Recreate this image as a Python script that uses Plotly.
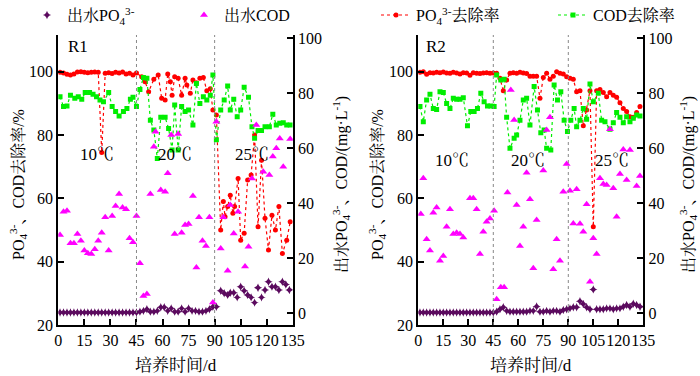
import plotly.graph_objects as go

# ---------------- R1 data ----------------
r1_po4rem_d = [1, 3, 5, 7, 9, 11, 13, 15, 17, 19, 21, 23, 25, 27, 29, 31, 33, 35, 37, 39, 41, 43, 45,
               48, 50, 52, 55, 57.5, 59.5, 61.5, 63, 64.5, 65.5, 67, 69, 71, 73, 74, 76, 77.5, 79.5, 81.5,
               83.5, 85.5, 87.5, 89, 91, 93.5, 95, 96, 97.5, 99, 100.5, 101.5, 103.5, 105, 107, 109,
               111, 113, 115, 117, 119, 121, 123, 125, 127, 129, 131.5, 133.5]
r1_po4rem = [99.8, 99.6, 99.2, 99.0, 99.3, 99.9, 100, 99.8, 99.7, 99.8, 99.9, 99.8, 74.5, 99.5, 99.7,
             99.4, 99.8, 99.6, 99.9, 99.3, 99.5, 99.0, 99.6,
             98.4, 96.8, 93.7, 97.6, 99.0, 91.6, 91.1, 99.3, 96.8, 92.6, 98.4, 97.9, 92.6, 97.9, 95.8,
             93.2, 97.4, 96.5, 97.9, 98.2, 94.0, 94.6, 87.9, 86.3, 50.0, 59.0, 54.2, 57.4, 61.0, 55.3,
             57.4, 66.3, 46.8, 49.0, 65.8, 67.4, 80.0, 51.0, 72.0, 53.7, 43.7, 54.7, 50.0, 57.4, 42.6,
             46.8, 52.6]

r1_codrem_d = [1, 3, 5, 7, 9.5, 11.5, 13.5, 15.5, 18, 20, 22, 24, 26, 29, 31, 33, 35, 37.5, 39.5, 41.5,
               43, 45, 47, 49, 51, 53, 55, 57, 59, 61.5, 63.5, 65.5, 67, 69, 71, 73, 75, 77.5, 79.5,
               81.5, 83.5, 85.5, 87.5, 89, 91, 93.5, 95.5, 97.5, 99, 101, 103, 105, 107, 109.5, 111.5,
               113, 115, 117, 119, 121.5, 123.5, 125.5, 127.5, 129.5, 131.5, 133.5]
r1_codrem = [92.1, 89.0, 89.2, 92.6, 91.6, 92.1, 91.3, 93.4, 93.4, 92.9, 92.1, 91.1, 90.5, 93.4, 89.0,
             87.4, 86.0, 87.4, 88.4, 91.3, 91.9, 89.0, 94.4, 98.2, 97.9, 84.7, 81.6, 72.6, 85.6, 85.6,
             82.1, 75.3, 89.5, 75.3, 89.0, 87.4, 87.9, 83.2, 96.3, 90.0, 92.1, 91.1, 92.6, 99.0, 78.5,
             87.9, 91.1, 95.5, 87.9, 91.3, 85.8, 87.9, 95.1, 91.9, 82.6, 79.0, 81.4, 81.4, 82.6, 82.6,
             86.6, 83.2, 83.7, 83.9, 83.2, 83.2]

r1_codeff_d = [1, 3, 5, 7, 9, 11, 13, 15, 17, 19, 21, 23, 25, 27, 29, 31, 33, 35, 37, 39, 41, 43, 45,
               47, 49, 51, 53, 55, 56, 59, 61.5, 63, 65, 67, 69, 71, 73, 75, 77.5, 79.5, 81, 83, 85, 87,
               89, 91, 93.5, 95, 97.5, 99, 101, 103.5, 107.5, 109.5, 111.5, 114, 118, 121.5, 123.5,
               125.5, 127.5, 129.5, 133.5]
r1_codeff = [28.5, 36.9, 37.3, 25.5, 25.5, 28.8, 26.4, 22.8, 21.8, 21.6, 23.3, 26.4, 29.3, 34.9, 22.8,
             35.4, 39.0, 43.4, 38.5, 37.8, 27.3, 25.8, 35.4, 18.2, 6.3, 7.0, 43.4, 60.6, 66.0, 44.8,
             44.2, 50.9, 64.8, 28.8, 65.2, 29.3, 32.1, 32.5, 42.7, 16.7, 34.9, 26.4, 24.5, 34.9, 3.9,
             69.7, 23.6, 34.9, 15.5, 39.4, 29.0, 36.9, 17.0, 24.2, 49.0, 68.5, 51.5, 50.3, 57.0, 60.0,
             63.6, 53.3, 63.4]

r1_po4eff_d = [1, 3, 5, 7, 9, 11, 13, 15, 17, 19, 21, 23, 25, 27, 29, 31, 33, 35, 37, 39, 41, 43, 45,
               47, 49, 51, 53, 55, 57, 59, 61, 63, 65, 67, 69, 71, 73, 75, 77, 79, 81, 83, 85, 87, 89,
               91, 93.5, 95.5, 97.5, 99, 101, 103, 105, 107, 109, 111, 113, 115, 117, 119, 121, 123,
               125, 127, 129, 131, 133]
r1_po4eff = [0.3] * 23 + [0.6, 0.9, 1.5, 0.6, 0.6, 0.9, 2.2, 2.2, 0.9, 1.8, 0.6, 0.6, 1.8, 0.6, 1.8,
                          0.9, 0.9, 0.6, 0.6, 0.9, 1.5, 2.4, 2.4,
                          8.2, 7.3, 6.7, 7.5, 7.5, 5.8, 9.7, 8.2, 6.7, 5.8, 3.9, 9.3, 5.8, 8.5, 11.5,
                          9.7, 9.7, 8.5, 11.5, 10.5, 8.5]

# ---------------- R2 data ----------------
r2_po4rem_d = [1, 3, 5, 7, 9, 11, 13, 15, 17, 19, 21, 23, 25, 27, 29, 31, 33, 35, 37, 39, 41, 43, 45,
               47, 49, 51, 53, 55, 57, 59, 61, 63, 65, 67, 69, 71, 73, 75, 77, 79, 81, 83, 85, 87, 89,
               91, 93, 95, 97, 99, 101, 103, 105, 107, 109, 111, 113, 115, 117, 119, 121, 123, 125,
               127, 129, 131, 133]
r2_po4rem = [99.8, 100, 99.2, 99.7, 99.6, 99.8, 99.7, 99.9, 99.6, 99.5, 99.8, 99.6, 99.3, 99.7, 99.6,
             98.9, 99.7, 99.5, 99.4, 99.6, 99.7, 99.5, 99.6,
             99.5, 97.9, 94.0, 97.4, 99.5, 99.7, 99.5, 99.8, 99.6, 99.4, 98.6, 98.6, 98.6, 91.6, 98.2,
             99.5, 97.6, 98.6, 100, 99.5, 99.3, 98.4, 97.9, 97.6, 93.7, 94.0, 82.9, 87.9, 94.0, 51.0,
             94.0, 94.4, 93.4, 92.1, 93.4, 92.6, 91.9, 90.2, 88.4, 87.4, 85.8, 85.6, 87.1, 89.0]

r2_codrem_d = [1, 3, 5, 7, 9, 11, 13, 15, 17, 19, 21, 23, 25, 27, 29.5, 31.5, 33.5, 35.5, 37.5, 39.5,
               41.5, 43.5, 45.5, 47, 49.5, 51.5, 53, 55, 57.5, 59, 61, 63, 65, 67, 69.5, 71.5, 73.5,
               75.5, 77, 79.5, 81.5, 83.5, 85.5, 87.5, 89.5, 91.5, 93.5, 95, 97, 99, 101, 103, 105,
               108, 110, 112, 115, 117, 119, 121, 123, 125, 127, 129, 131, 133]
r2_codrem = [89.0, 84.2, 91.1, 92.9, 88.4, 88.1, 93.7, 93.4, 90.0, 88.4, 91.6, 91.3, 91.3, 91.8, 82.9,
             87.4, 87.4, 88.4, 93.2, 90.5, 89.2, 89.2, 89.0, 99.0, 97.4, 97.6, 85.6, 75.8, 79.0, 80.0,
             84.7, 91.1, 91.6, 83.2, 95.3, 87.9, 80.7, 81.6, 75.8, 75.3, 95.8, 91.1, 93.7, 84.7, 81.1,
             84.7, 88.4, 82.6, 84.7, 88.4, 85.0, 96.1, 90.5, 93.2, 84.7, 84.2, 81.8, 83.9, 87.1, 85.6,
             83.9, 85.8, 84.2, 85.3, 86.3, 86.0]

r2_codeff_d = [1.5, 3, 5, 7, 9, 11, 13, 15, 17, 19, 21, 23, 25, 27, 31, 33, 35, 37, 39, 41, 43, 45.5,
               47, 49.5, 51.5, 53.5, 55.5, 57.5, 59, 61, 63, 65, 67, 69, 71, 75, 77, 79, 81, 83, 85, 87,
               89, 91, 93, 95, 97, 99, 101, 103, 105, 107, 109, 111, 113, 115, 117, 119, 121, 123, 125,
               127, 131, 133]
r2_codeff = [36.1, 49.1, 26.9, 22.8, 36.6, 38.5, 19.1, 20.8, 31.5, 37.8, 28.8, 29.3, 28.8, 27.6, 41.8,
             41.8, 37.8, 21.6, 29.7, 33.3, 34.5, 37.3, 5.1, 9.5, 9.5, 43.9, 81.2, 70.3, 39.4, 24.5,
             31.5, 51.1, 41.5, 16.4, 33.9, 51.9, 66.7, 71.3, 16.0, 26.9, 19.1, 44.2, 54.3, 44.6, 32.7,
             45.1, 32.6, 29.7, 39.7, 11.5, 27.3, 21.6, 49.1, 47.0, 46.7, 66.9, 45.5, 35.1, 50.7, 59.6,
             48.5, 59.4, 46.3, 49.9]

r2_po4eff_d = r2_po4rem_d
r2_po4eff = [0.3] * 23 + [0.6, 1.5, 2.2, 0.9, 0.6, 0.6, 0.6, 0.6, 0.6, 0.6, 0.9, 0.9, 2.5, 0.6, 0.6,
                          0.9, 0.6, 0.9, 0.9, 0.6, 1.2, 1.5, 1.8, 2.2, 2.2, 4.4, 3.4, 2.2, 1.5, 8.7,
                          1.5, 1.5, 1.5, 1.8, 1.8, 1.5, 1.8, 1.8, 2.4, 3.0, 2.4, 3.5, 3.0, 2.4]

x_ticks = [0, 15, 30, 45, 60, 75, 90, 105, 120, 135]
left_ticks = [20, 40, 60, 80, 100]
right_ticks = [0, 20, 40, 60, 80, 100]
stage_days = [45, 90]
stage_labels = ["10℃", "20℃", "25℃"]
r1_label_days = [22, 67, 111.5]
r2_label_days = [20, 66, 116.5]

names = ["出水PO<sub>4</sub><sup>3-</sup>", "出水COD",
         "PO<sub>4</sub><sup>3-</sup>去除率", "COD去除率"]

FONT = "Liberation Serif, 'Noto Serif CJK SC', 'Noto Sans CJK SC', serif"
W, H = 700, 376

fig = go.Figure()


def add_reactor(xa, yl, yr, po4rem_d, po4rem, codrem_d, codrem, codeff_d, codeff, po4eff_d, po4eff, show):
    fig.add_trace(go.Scatter(x=po4eff_d, y=po4eff, xaxis=xa, yaxis=yr, mode="markers", name=names[0],
                             marker=dict(symbol="star-diamond", size=6, color="#5b0a5e"),
                             showlegend=show, legend="legend"))
    fig.add_trace(go.Scatter(x=codeff_d, y=codeff, xaxis=xa, yaxis=yr, mode="markers", name=names[1],
                             marker=dict(symbol="triangle-up", size=7, color="#ff00ff"),
                             showlegend=show, legend="legend2"))
    fig.add_trace(go.Scatter(x=po4rem_d, y=po4rem, xaxis=xa, yaxis=yl, mode="lines+markers", name=names[2],
                             line=dict(color="#ff0000", width=1.2, dash="dot"),
                             marker=dict(symbol="circle", size=5, color="#ff0000"),
                             showlegend=show, legend="legend3"))
    fig.add_trace(go.Scatter(x=codrem_d, y=codrem, xaxis=xa, yaxis=yl, mode="lines+markers", name=names[3],
                             line=dict(color="#00ee00", width=1.2, dash="dot"),
                             marker=dict(symbol="square", size=5, color="#00ee00"),
                             showlegend=show, legend="legend4"))


add_reactor("x", "y", "y2", r1_po4rem_d, r1_po4rem, r1_codrem_d, r1_codrem,
            r1_codeff_d, r1_codeff, r1_po4eff_d, r1_po4eff, True)
add_reactor("x2", "y3", "y4", r2_po4rem_d, r2_po4rem, r2_codrem_d, r2_codrem,
            r2_codeff_d, r2_codeff, r2_po4eff_d, r2_po4eff, False)

top_px, bot_px = 35, 325
ydom = [1 - bot_px / H, 1 - top_px / H]
left_range = [20, 20 + (bot_px - top_px) / 3.166]
right_range = [(313.3 - bot_px) / 2.75, (313.3 - top_px) / 2.75]

axis_common = dict(showgrid=False, zeroline=False, showline=True, linecolor="black", linewidth=2,
                   ticks="inside", ticklen=6, tickwidth=2, tickcolor="black", automargin=False,
                   tickfont=dict(family=FONT, size=16, color="black"))

fig.update_layout(
    width=W, height=H, margin=dict(l=0, r=0, t=0, b=0, autoexpand=False),
    paper_bgcolor="white", plot_bgcolor="white",
    font=dict(family=FONT, size=16, color="black"),
    xaxis=dict(domain=[58.3 / W, 292.8 / W], range=[0, 135], tickvals=x_ticks, anchor="y", tickangle=0,
               **axis_common),
    yaxis=dict(domain=ydom, range=left_range, tickvals=left_ticks, anchor="x", **axis_common),
    yaxis2=dict(range=right_range, tickvals=right_ticks, overlaying="y", side="right", anchor="x",
                **axis_common),
    xaxis2=dict(domain=[418.3 / W, 643.3 / W], range=[0, 135], tickvals=x_ticks, anchor="y3", tickangle=0,
                **axis_common),
    yaxis3=dict(domain=ydom, range=left_range, tickvals=left_ticks, anchor="x2", **axis_common),
    yaxis4=dict(range=right_range, tickvals=right_ticks, overlaying="y3", side="right", anchor="x2",
                **axis_common),
)

leg_x = [27, 184, 376, 553]
for i, key in enumerate(["legend", "legend2", "legend3", "legend4"]):
    fig.update_layout({key: dict(x=leg_x[i] / W, y=1.005, xanchor="left", yanchor="top",
                                 bgcolor="rgba(0,0,0,0)", font=dict(family=FONT, size=16))})

# stage separators
for xa, ya in [("x", "y"), ("x2", "y3")]:
    for d in stage_days:
        fig.add_shape(type="line", xref=xa, yref=ya + " domain", x0=d, x1=d, y0=0, y1=1,
                      line=dict(color="#888888", width=1, dash="dot"))

# temperature labels
for xa, ya, days, yv in [("x", "y", r1_label_days, 74), ("x2", "y3", r2_label_days, 72)]:
    for d, t in zip(days, stage_labels):
        fig.add_annotation(x=d, y=yv, xref=xa, yref=ya, text=t, showarrow=False,
                           xanchor="center", yanchor="middle",
                           font=dict(family=FONT, size=17, color="black"))

# reactor labels
for xp, txt in [(66, "R1"), (424, "R2")]:
    fig.add_annotation(x=xp / W, y=1 - 46 / H, xref="paper", yref="paper", text=txt, showarrow=False,
                       xanchor="left", yanchor="middle", font=dict(family=FONT, size=17))

# axis titles
left_title = "PO<sub>4</sub><sup>3-</sup>、COD去除率/%"
right_title = "出水PO<sub>4</sub><sup>3-</sup>、COD/(mg·L<sup>-1</sup>)"
x_title = "培养时间/d"
for xp, txt in [(18, left_title), (377, left_title), (341, right_title), (688, right_title)]:
    fig.add_annotation(x=xp / W, y=1 - 185 / H, xref="paper", yref="paper", text=txt, textangle=-90,
                       showarrow=False, xanchor="center", yanchor="middle", font=dict(family=FONT, size=16))
for xp in [175.5, 530.8]:
    fig.add_annotation(x=xp / W, y=1 - 365 / H, xref="paper", yref="paper", text=x_title,
                       showarrow=False, xanchor="center", yanchor="middle", font=dict(family=FONT, size=17))

fig.write_html("out.html", config={"displayModeBar": False},
               post_script="document.body.style.margin='0px';document.documentElement.style.margin='0px';")
